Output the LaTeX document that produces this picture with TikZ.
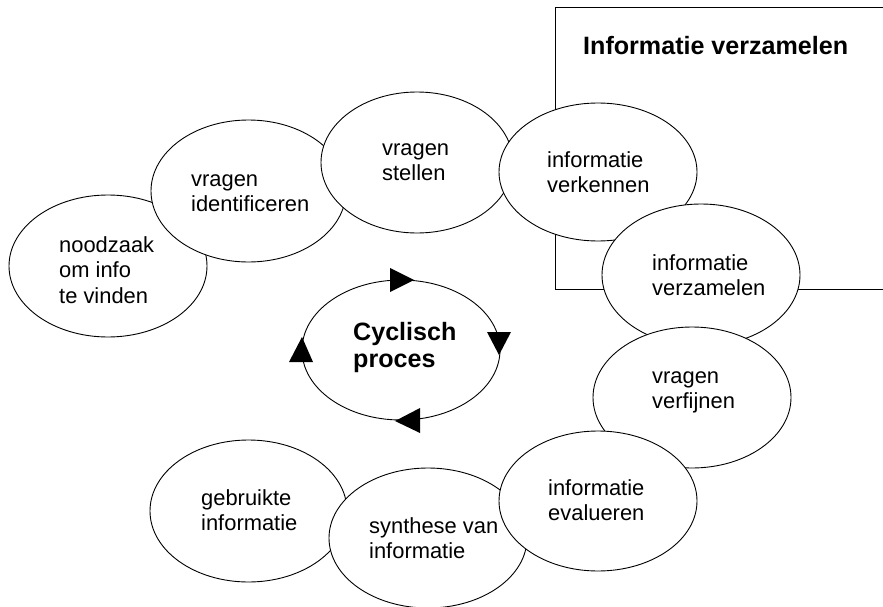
\documentclass[tikz,border=0pt]{standalone}
\usepackage{fontspec}
\setmainfont{Liberation Sans}
\usetikzlibrary{shapes.geometric}
\newcommand{\mylines}[1]{\begin{tabular}[t]{@{}l@{}}#1\end{tabular}}
\tikzset{
  ell/.style={draw, fill=white, ellipse, line width=0.9pt, inner sep=0pt, minimum width=198pt, minimum height=141pt},
  txt/.style={anchor=base west, inner sep=0pt, font=\fontsize{21.9}{25.8}\selectfont},
  btxt/.style={anchor=base west, inner sep=0pt, font=\bfseries\fontsize{25.1}{27.5}\selectfont},
  tri/.style={fill=black}
}
\begin{document}
\begin{tikzpicture}[x=1pt,y=-1pt]
\useasboundingbox (0,0) rectangle (883,607);
% box
\coordinate (bTR) at (883,7.3);
\coordinate (bTL) at (555,7.3);
\coordinate (bBL) at (555,289);
\coordinate (bBR) at (883,289);
\draw[line width=0.9pt] (bTR) -- (bTL) -- (bBL) -- (bBR);
\node[btxt] (title) at (583,55) {Informatie verzamelen};
% ellipses in stacking order
\node[ell, minimum width=197pt, minimum height=142pt] (e9) at (248.5,511) {};
\node[ell, minimum width=198pt, minimum height=140pt] (e8) at (428,538) {};
\node[ell, minimum width=198pt, minimum height=142pt] (e1) at (108,266) {};
\node[ell, minimum width=195pt, minimum height=142pt] (e2) at (248.5,191) {};
\node[ell, minimum width=192pt, minimum height=141pt] (e3) at (417,162.5) {};
\node[ell, minimum width=198pt, minimum height=138pt] (e4) at (598,172) {};
\node[ell, minimum width=198pt, minimum height=142pt] (e5) at (701,275) {};
\node[ell, minimum width=198pt, minimum height=141pt] (e6) at (692,397.5) {};
\node[ell, minimum width=198pt, minimum height=140pt] (e7) at (598,501) {};
% texts
\node[txt] (t1) at (59,252) {\mylines{noodzaak\\om info\\te vinden}};
\node[txt] (t2) at (191,186) {\mylines{vragen\\identificeren}};
\node[txt] (t3) at (382,155) {\mylines{vragen\\stellen}};
\node[txt] (t4) at (547,167) {\mylines{informatie\\verkennen}};
\node[txt] (t5) at (652,270) {\mylines{informatie\\verzamelen}};
\node[txt] (t6) at (652,383) {\mylines{vragen\\verfijnen}};
\node[txt] (t7) at (548,495) {\mylines{informatie\\evalueren}};
\node[txt] (t8) at (369,533) {\mylines{synthese van\\informatie}};
\node[txt] (t9) at (201,505) {\mylines{gebruikte\\informatie}};
% cycle
\node[ell, minimum width=198pt, minimum height=140pt] (cyc) at (401,350) {};
\node[btxt] (ctext) at (353,340) {\mylines{Cyclisch\\proces}};
\fill[tri] (390,268) -- (390,292) -- (414,280) -- cycle;
\fill[tri] (487,332) -- (511,332) -- (499,355) -- cycle;
\fill[tri] (420,408) -- (420,433) -- (395,421) -- cycle;
\fill[tri] (289,362) -- (313,362) -- (302,337) -- cycle;
\end{tikzpicture}
\end{document}
